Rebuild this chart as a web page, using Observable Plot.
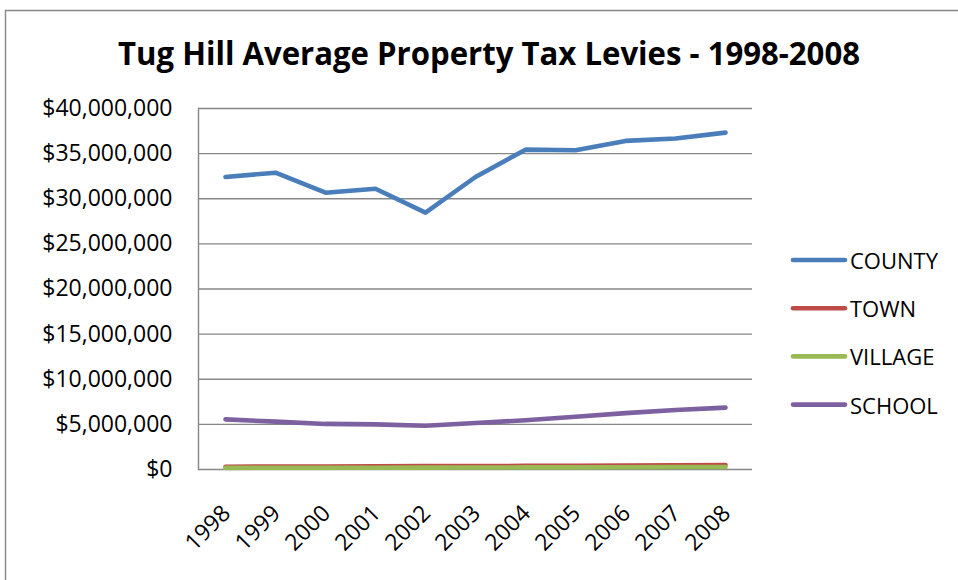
<!DOCTYPE html>
<html>
<head>
<meta charset="utf-8">
<script src="https://cdn.jsdelivr.net/npm/d3@7"></script>
<script src="https://cdn.jsdelivr.net/npm/@observablehq/plot@0.6"></script>
<style>
  html, body { margin: 0; padding: 0; background: #fff; }
  #chart { width: 958px; height: 580px; overflow: hidden; }
</style>
</head>
<body>
<div id="chart"></div>
<script>
// ---- data ----
const years = ["1998","1999","2000","2001","2002","2003","2004","2005","2006","2007","2008"];
const county  = [32.41e6, 32.89e6, 30.67e6, 31.11e6, 28.47e6, 32.41e6, 35.44e6, 35.37e6, 36.41e6, 36.67e6, 37.33e6];
const town    = [0.31e6, 0.32e6, 0.33e6, 0.35e6, 0.37e6, 0.38e6, 0.40e6, 0.42e6, 0.44e6, 0.47e6, 0.50e6];
const village = [0.18e6, 0.19e6, 0.19e6, 0.20e6, 0.21e6, 0.22e6, 0.23e6, 0.24e6, 0.25e6, 0.27e6, 0.28e6];
const school  = [5.55e6, 5.30e6, 5.05e6, 5.00e6, 4.85e6, 5.15e6, 5.45e6, 5.85e6, 6.25e6, 6.60e6, 6.86e6];
const seriesNames  = ["COUNTY", "TOWN", "VILLAGE", "SCHOOL"];
const seriesValues = [county, town, village, school];
const seriesColors = ["#4A7EBB", "#BE4B48", "#98B954", "#7D60A0"];
const yTicks = [0, 5e6, 10e6, 15e6, 20e6, 25e6, 30e6, 35e6, 40e6];
const titleText = "Tug Hill Average Property Tax Levies - 1998-2008";

// ---- table for the library ----
const rows = [];
seriesNames.forEach((s, i) => years.forEach((yr, j) => rows.push({year: yr, series: s, value: seriesValues[i][j]})));

const fmt = v => "$" + d3.format(",")(v);
const gridColor = "#878787";

const svg = Plot.plot({
  width: 958,
  height: 580,
  marginTop: 108,
  marginBottom: 111,
  marginLeft: 198,
  marginRight: 206,
  style: {fontFamily: "'Open Sans', sans-serif", fontSize: "23px", color: "#000", background: "#fff"},
  x: {type: "point", domain: years, padding: 0.5, label: null},
  y: {domain: [0, 40e6], label: null},
  color: {domain: seriesNames, range: seriesColors},
  marks: [
    Plot.gridY(yTicks, {stroke: gridColor, strokeOpacity: 1, strokeWidth: 1.4}),
    Plot.frame({anchor: "left", stroke: gridColor, strokeWidth: 1.4}),
    Plot.axisY(yTicks, {tickSize: 0, tickPadding: 26, tickFormat: fmt, fontSize: 23, fill: "#000"}),
    Plot.axisX({tickSize: 0, tickPadding: 28, dy: 12, dx: 1, tickRotate: -45, fontSize: 23, fill: "#000"}),
    Plot.line(rows, {x: "year", y: "value", z: "series", stroke: "series",
      strokeWidth: 4.6, strokeLinecap: "round", strokeLinejoin: "round"})
  ]
});

const root = d3.select(svg);
// outer chart border (top and left edges visible)
root.insert("path", ":first-child")
  .attr("d", "M5.5,580V10.5H958")
  .attr("fill", "none").attr("stroke", gridColor).attr("stroke-width", 1.4);

// title
root.append("text")
  .attr("x", 489).attr("y", 52)
  .attr("text-anchor", "middle").attr("dominant-baseline", "central")
  .attr("font-family", "'Open Sans', sans-serif").attr("font-weight", "bold")
  .attr("font-size", 32).attr("fill", "#000")
  .attr("textLength", 742).attr("lengthAdjust", "spacingAndGlyphs")
  .text(titleText);

// legend
const lg = root.append("g").attr("font-family", "'Open Sans', sans-serif").attr("font-size", 22)
  .attr("text-anchor", "start");
seriesNames.forEach((name, i) => {
  const y = 260 + i * 48.2;
  lg.append("line").attr("x1", 793).attr("x2", 845).attr("y1", y).attr("y2", y)
    .attr("stroke", seriesColors[i]).attr("stroke-width", 4.6).attr("stroke-linecap", "round");
  lg.append("text").attr("x", 850).attr("y", y).attr("dominant-baseline", "central")
    .attr("text-anchor", "start").attr("fill", "#000").text(name);
});

document.getElementById("chart").appendChild(svg);
</script>
</body>
</html>
